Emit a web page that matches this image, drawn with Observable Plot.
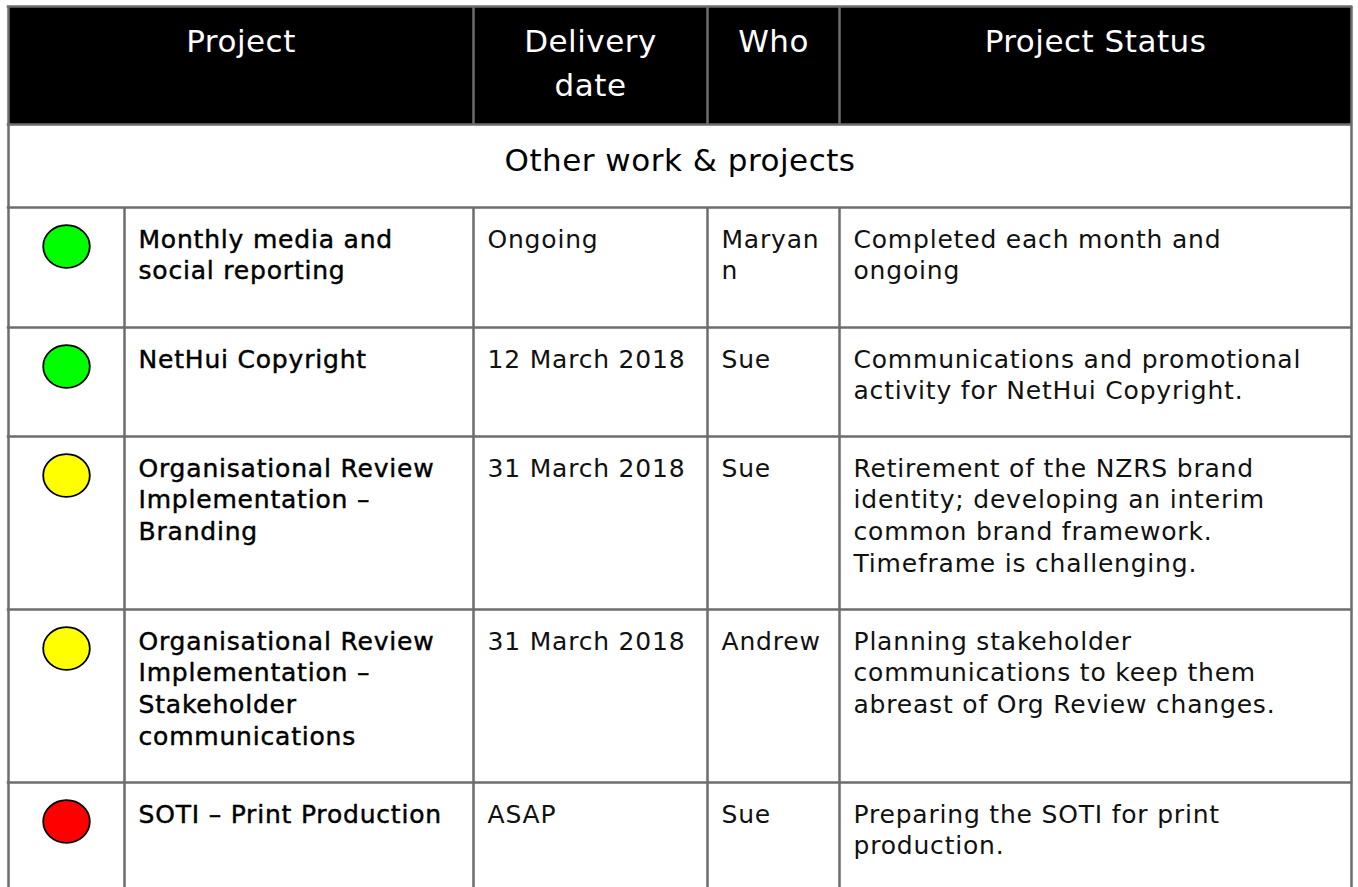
<!DOCTYPE html>
<html>
<head>
<meta charset="utf-8">
<script src="https://cdn.jsdelivr.net/npm/d3@7"></script>
<script src="https://cdn.jsdelivr.net/npm/@observablehq/plot@0.6"></script>
<style>
  html, body { margin: 0; padding: 0; background: #fff; overflow: hidden; }
  svg g[aria-label="text"] { letter-spacing: 0.8px; }
  svg g[aria-label="text"][fill="#fff"] { letter-spacing: 0.5px; }
  svg g[aria-label="text"].section { letter-spacing: 0.5px; }
</style>
</head>
<body>
<div id="chart"></div>
<script>
// ---------- data ----------
const headers = ["Project", "Delivery\ndate", "Who", "Project Status"];
const sectionTitle = "Other work & projects";
const projects = [
  "Monthly media and\nsocial reporting",
  "NetHui Copyright",
  "Organisational Review\nImplementation –\nBranding",
  "Organisational Review\nImplementation –\nStakeholder\ncommunications",
  "SOTI – Print Production"
];
const deliveryDates = ["Ongoing", "12 March 2018", "31 March 2018", "31 March 2018", "ASAP"];
const owners = ["Maryan\nn", "Sue", "Sue", "Andrew", "Sue"];
const statuses = [
  "Completed each month and\nongoing",
  "Communications and promotional\nactivity for NetHui Copyright.",
  "Retirement of the NZRS brand\nidentity; developing an interim\ncommon brand framework.\nTimeframe is challenging.",
  "Planning stakeholder\ncommunications to keep them\nabreast of Org Review changes.",
  "Preparing the SOTI for print\nproduction."
];
const ragStatus = ["green", "green", "amber", "amber", "red"];

// ---------- layout & style ----------
const W = 1358, H = 887;
const colEdges = [8, 124, 473, 707, 839, 1351];
const headerSpans = [[0, 2], [2, 3], [3, 4], [4, 5]];
const tableTop = 6, headerBottom = 124, sectionBottom = 207;
const rowHeights = [120, 109, 173, 173, 173];
const ragColors = {green: "#00ff00", amber: "#ffff00", red: "#ff0000"};
const font = "DejaVu Sans";
const gridColor = "#6d6d6d";
const gridWidth = 2.5;
const headFS = 31, headLH = 1.4, headBaseline = 52;
const sectFS = 31, sectBaseline = 170;
const bodyFS = 25, bodyLH = 1.28, bodyBaselineOffset = 40;
const cellPad = 14;
const dotOffset = 39, dotR = 22.3;

const rowTops = [];
rowHeights.reduce((t, h) => (rowTops.push(t), t + h), sectionBottom);

const rows = projects.map((p, i) => ({
  project: p, date: deliveryDates[i], who: owners[i], status: statuses[i],
  rag: ragStatus[i], top: rowTops[i]
}));

const cells = rows.flatMap(r => [r.project, r.date, r.who, r.status].map((t, c) => ({
  text: t, col: c + 1, top: r.top
})));

const hLines = [tableTop, headerBottom, sectionBottom, ...rowTops.slice(1)];
const lastBottom = rowTops[rowTops.length - 1] + rowHeights[rowHeights.length - 1];
if (lastBottom < H) hLines.push(lastBottom);

const vLines = [
  ...[colEdges[0], colEdges[5]].map(x => ({x, y1: tableTop, y2: H})),
  ...[2, 3, 4].map(c => ({x: colEdges[c], y1: tableTop, y2: headerBottom})),
  ...[1, 2, 3, 4].map(c => ({x: colEdges[c], y1: sectionBottom, y2: H}))
];

const ellipse = {
  draw(ctx, size) {
    const r = Math.sqrt(size / Math.PI);
    const rx = r * 1.045, ry = r * 0.955, k = 0.5523;
    ctx.moveTo(rx, 0);
    ctx.bezierCurveTo(rx, ry * k, rx * k, ry, 0, ry);
    ctx.bezierCurveTo(-rx * k, ry, -rx, ry * k, -rx, 0);
    ctx.bezierCurveTo(-rx, -ry * k, -rx * k, -ry, 0, -ry);
    ctx.bezierCurveTo(rx * k, -ry, rx, -ry * k, rx, 0);
    ctx.closePath();
  }
};

const topY = (baseline, fs, lh) => baseline - 0.71 * lh * fs;

const chart = Plot.plot({
  width: W,
  height: H,
  margin: 0,
  x: {domain: [0, W], range: [0, W], axis: null},
  y: {domain: [0, H], range: [0, H], axis: null},
  color: {type: "identity"},
  style: {fontFamily: font, background: "#fff"},
  marks: [
    // header background
    Plot.rect([0], {x1: colEdges[0], x2: colEdges[5], y1: tableTop, y2: headerBottom, fill: "#000"}),
    // grid lines
    Plot.ruleY(hLines, {y: d => d, x1: colEdges[0] - gridWidth / 2, x2: colEdges[5] + gridWidth / 2, stroke: gridColor, strokeWidth: gridWidth}),
    Plot.ruleX(vLines, {x: "x", y1: "y1", y2: "y2", stroke: gridColor, strokeWidth: gridWidth}),
    // header text
    Plot.text(headers, {
      x: (d, i) => (colEdges[headerSpans[i][0]] + colEdges[headerSpans[i][1]]) / 2,
      y: () => topY(headBaseline, headFS, headLH),
      text: d => d,
      fill: "#fff", fontSize: headFS, lineHeight: headLH, lineAnchor: "top", textAnchor: "middle"
    }),
    // section title
    Plot.text([sectionTitle], {
      x: () => (colEdges[0] + colEdges[5]) / 2,
      y: () => sectBaseline,
      text: d => d,
      fill: "#010101", fontSize: sectFS, lineAnchor: "bottom", textAnchor: "middle"
    }),
    // status dots
    Plot.dot(rows, {
      x: () => (colEdges[0] + colEdges[1]) / 2,
      y: d => d.top + dotOffset,
      r: dotR,
      symbol: ellipse,
      fill: d => ragColors[d.rag],
      stroke: "#000", strokeWidth: 1.8
    }),
    // project names (medium weight)
    Plot.text(cells.filter(d => d.col === 1), {
      x: d => colEdges[d.col] + cellPad,
      y: d => topY(d.top + bodyBaselineOffset, bodyFS, bodyLH),
      text: "text",
      fill: "#000", stroke: "#000", strokeWidth: 0.45,
      fontSize: bodyFS, lineHeight: bodyLH, lineAnchor: "top", textAnchor: "start"
    }),
    // other cells
    Plot.text(cells.filter(d => d.col !== 1), {
      x: d => colEdges[d.col] + cellPad,
      y: d => topY(d.top + bodyBaselineOffset, bodyFS, bodyLH),
      text: "text",
      fill: "#111",
      fontSize: bodyFS, lineHeight: bodyLH, lineAnchor: "top", textAnchor: "start"
    })
  ]
});

d3.select(chart).selectAll('g[aria-label="text"][fill="#010101"]').style("letter-spacing", "0.5px");
document.getElementById("chart").appendChild(chart);
</script>
</body>
</html>
